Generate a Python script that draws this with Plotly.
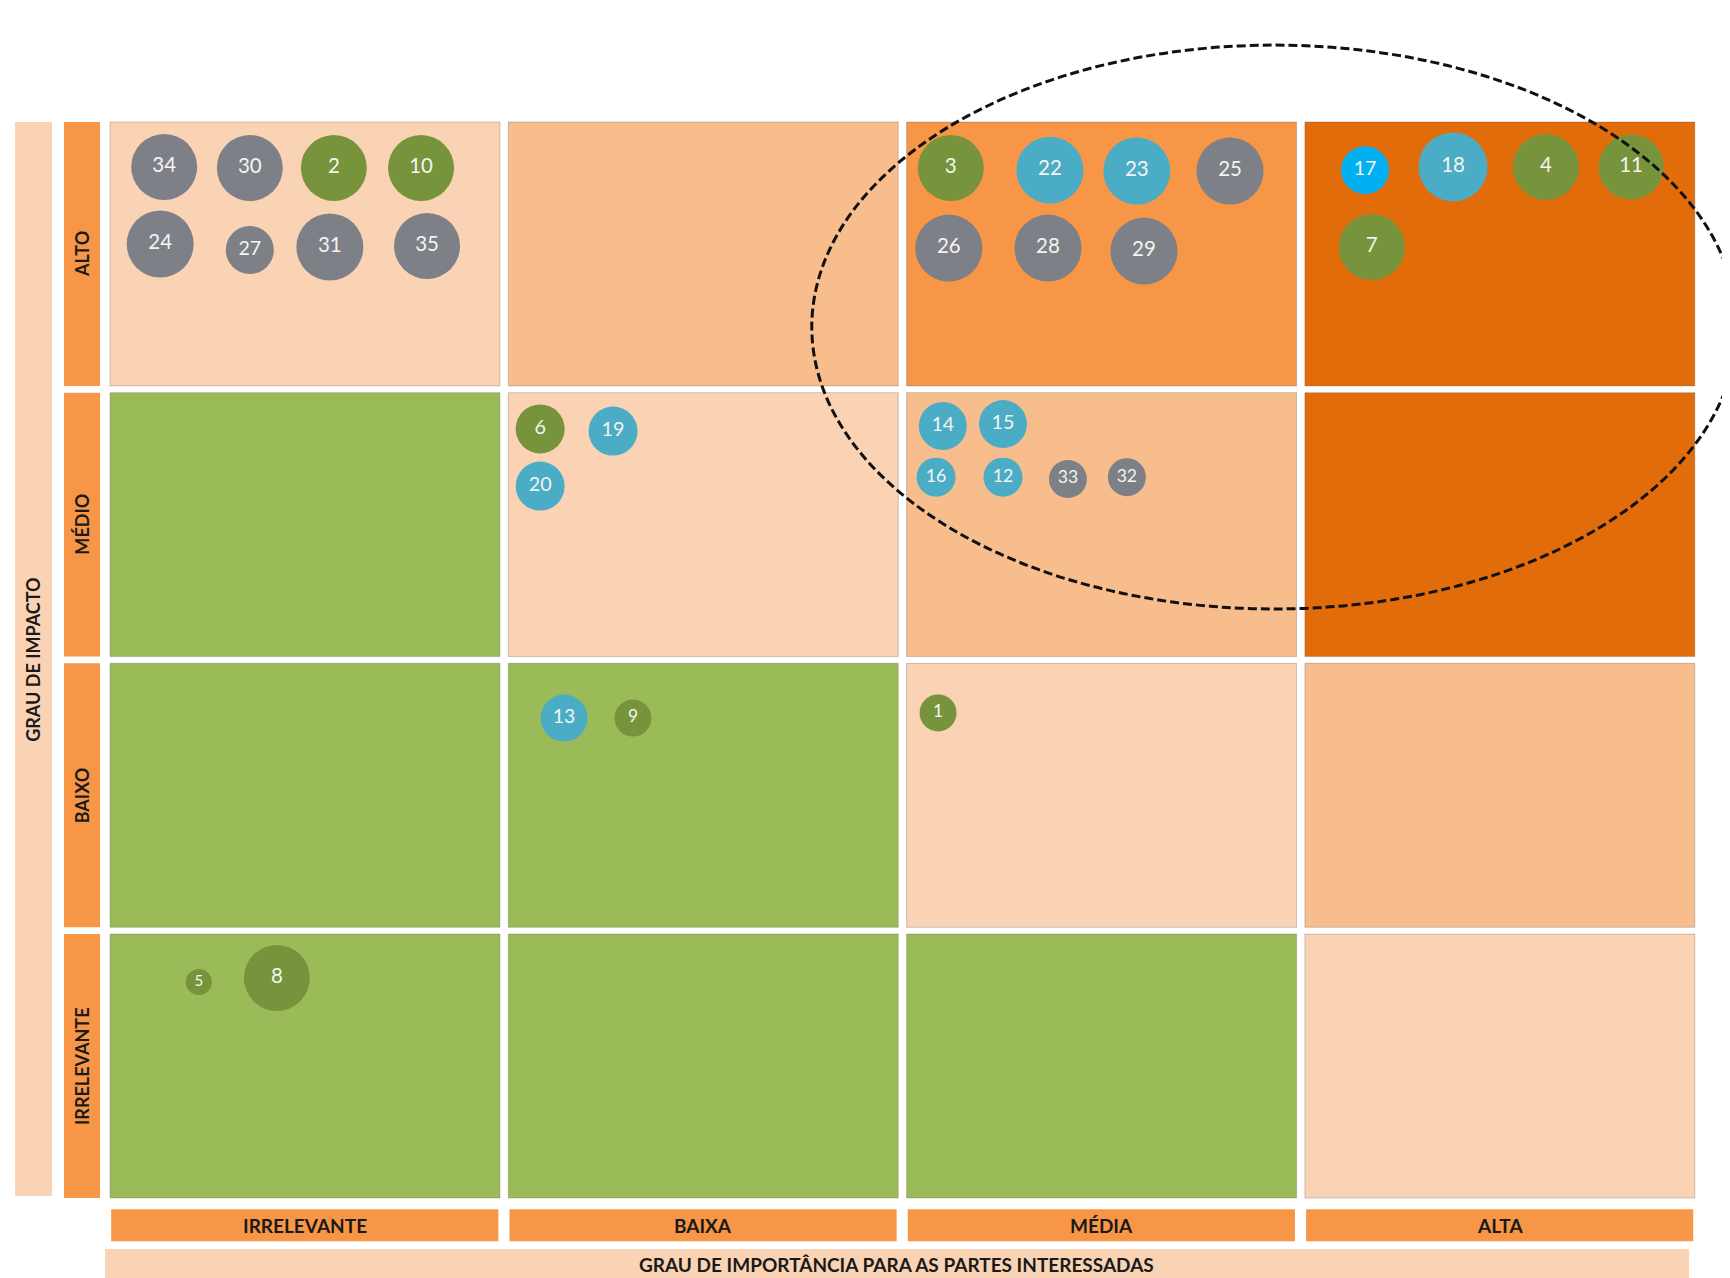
import plotly.graph_objects as go

# ---------------- data ----------------
importance_levels = ["IRRELEVANTE", "BAIXA", "MÉDIA", "ALTA"]          # x categories (left -> right)
impact_levels = ["IRRELEVANTE", "BAIXO", "MÉDIO", "ALTO"]              # y categories (bottom -> top)
x_title = "GRAU DE IMPORTÂNCIA PARA AS PARTES INTERESSADAS"
y_title = "GRAU DE IMPACTO"

# zone of each cell: rows bottom->top (impact), columns left->right (importance)
# 0 = green, 1 = light, 2 = medium, 3 = orange, 4 = dark orange
zone_grid = [
    [0, 0, 0, 1],   # IRRELEVANTE
    [0, 0, 1, 2],   # BAIXO
    [0, 1, 2, 4],   # MÉDIO
    [1, 2, 3, 4],   # ALTO
]

bubble_ids = [34, 30, 2, 10, 24, 27, 31, 35,
              3, 22, 23, 25, 26, 28, 29,
              17, 18, 4, 11, 7,
              6, 19, 20,
              14, 15, 16, 12, 33, 32,
              13, 9, 1, 5, 8]
bubble_x = [0.136, 0.351, 0.562, 0.781, 0.126, 0.351, 0.552, 0.796,
            2.111, 2.360, 2.578, 2.812, 2.106, 2.355, 2.596,
            3.151, 3.372, 3.605, 3.819, 3.168,
            1.080, 1.263, 1.080,
            2.091, 2.242, 2.074, 2.242, 2.405, 2.553,
            1.140, 1.313, 2.079, 0.223, 0.419]
bubble_y = [3.809, 3.805, 3.805, 3.805, 3.524, 3.502, 3.513, 3.517,
            3.805, 3.797, 3.794, 3.794, 3.509, 3.509, 3.498,
            3.797, 3.809, 3.809, 3.809, 3.513,
            2.841, 2.833, 2.630,
            2.852, 2.859, 2.663, 2.663, 2.656, 2.663,
            1.773, 1.773, 1.792, 0.798, 0.813]
bubble_group = ["gray", "gray", "green", "green", "gray", "gray", "gray", "gray",
                "green", "blue", "blue", "gray", "gray", "gray", "gray",
                "cyan", "blue", "green", "green", "green",
                "green", "blue", "blue",
                "blue", "blue", "blue", "blue", "gray", "gray",
                "blue", "green", "green", "green", "green"]
bubble_size = [66, 66, 66, 66, 67, 48, 67, 66,
               66, 67, 67, 67, 67, 67, 67,
               48, 69, 66, 65, 66,
               49, 49, 49,
               48, 48, 39, 39, 38, 38,
               47, 37, 37, 26, 66]

# ---------------- styles ----------------
zone_colors = {0: "#9BBB59", 1: "#FAD3B4", 2: "#F8BD8D", 3: "#F79646", 4: "#E36C0A"}
group_colors = {"gray": "#7D8087", "green": "#77933C", "blue": "#4BACC6", "cyan": "#00B0F0"}
label_bar = "#F79646"
title_bar = "#FAD3B4"
FONT = "Lato"

CELL_W = 0.979
CELL_H = 0.975

fig = go.Figure()
shapes = []
annotations = []

# matrix cells
for r, row in enumerate(zone_grid):
    for c, z in enumerate(row):
        shapes.append(dict(type="rect", xref="x", yref="y", layer="below",
                           x0=c, x1=c + CELL_W, y0=r, y1=r + CELL_H,
                           fillcolor=zone_colors[z],
                           line=dict(color="rgba(90,90,90,0.3)", width=1)))

# row labels (impact)
for r, name in enumerate(impact_levels):
    shapes.append(dict(type="rect", xref="x", yref="y", layer="below",
                       x0=-0.1155, x1=-0.0251, y0=r, y1=r + CELL_H,
                       fillcolor=label_bar, line=dict(width=0)))
    annotations.append(dict(x=-0.0703, y=r + CELL_H / 2, xref="x", yref="y",
                            text="<b>%s</b>" % name, textangle=-90, showarrow=False,
                            font=dict(family=FONT, size=18, color="#1a1a1a")))

# column labels (importance)
for c, name in enumerate(importance_levels):
    shapes.append(dict(type="rect", xref="x", yref="y", layer="below",
                       x0=c + 0.003, x1=c + 0.975, y0=-0.160, y1=-0.042,
                       fillcolor=label_bar, line=dict(width=0)))
    annotations.append(dict(x=c + 0.489, y=-0.101, xref="x", yref="y",
                            text="<b>%s</b>" % name, showarrow=False,
                            font=dict(family=FONT, size=19, color="#1a1a1a")))

# axis title bars
shapes.append(dict(type="rect", xref="x", yref="y", layer="below",
                   x0=-0.2385, x1=-0.1456, y0=0.007, y1=3.975,
                   fillcolor=title_bar, line=dict(width=0)))
annotations.append(dict(x=-0.192, y=1.99, xref="x", yref="y",
                        text="<b>%s</b>" % y_title, textangle=-90, showarrow=False,
                        font=dict(family=FONT, size=18, color="#1a1a1a")))
shapes.append(dict(type="rect", xref="x", yref="y", layer="below",
                   x0=-0.0126, x1=3.9646, y0=-0.32, y1=-0.188,
                   fillcolor=title_bar, line=dict(width=0)))
annotations.append(dict(x=1.975, y=-0.246, xref="x", yref="y",
                        text="<b>%s</b>" % x_title, showarrow=False,
                        font=dict(family=FONT, size=19, color="#1a1a1a")))

# dashed ellipse highlighting priority area
shapes.append(dict(type="circle", xref="x", yref="y", layer="above",
                   x0=1.762, x1=4.085, y0=2.176, y1=4.259,
                   line=dict(color="#111111", width=3, dash="9px,4px"),
                   fillcolor="rgba(0,0,0,0)"))

# bubbles
fig.add_trace(go.Scatter(
    x=bubble_x, y=bubble_y, mode="markers+text",
    text=[str(i) for i in bubble_ids],
    textposition="middle center",
    textfont=dict(family=FONT, color="#F4F4F0",
                  size=[min(20.5, 10 + s * 0.2) for s in bubble_size]),
    marker=dict(size=bubble_size,
                color=[group_colors[g] for g in bubble_group],
                line=dict(width=0), opacity=1),
    hoverinfo="text", showlegend=False,
))

# page has an 8px body margin: figure is sized to fill the rest of the window
fig.update_layout(
    width=1722, height=1270,
    margin=dict(l=0, r=0, t=0, b=0),
    paper_bgcolor="white", plot_bgcolor="white",
    shapes=shapes, annotations=annotations,
    xaxis=dict(range=[-0.25609, 4.06729], visible=False, fixedrange=True),
    yaxis=dict(range=[-0.29553, 4.39601], visible=False, fixedrange=True),
    showlegend=False,
)

fig.write_html("out.html")
